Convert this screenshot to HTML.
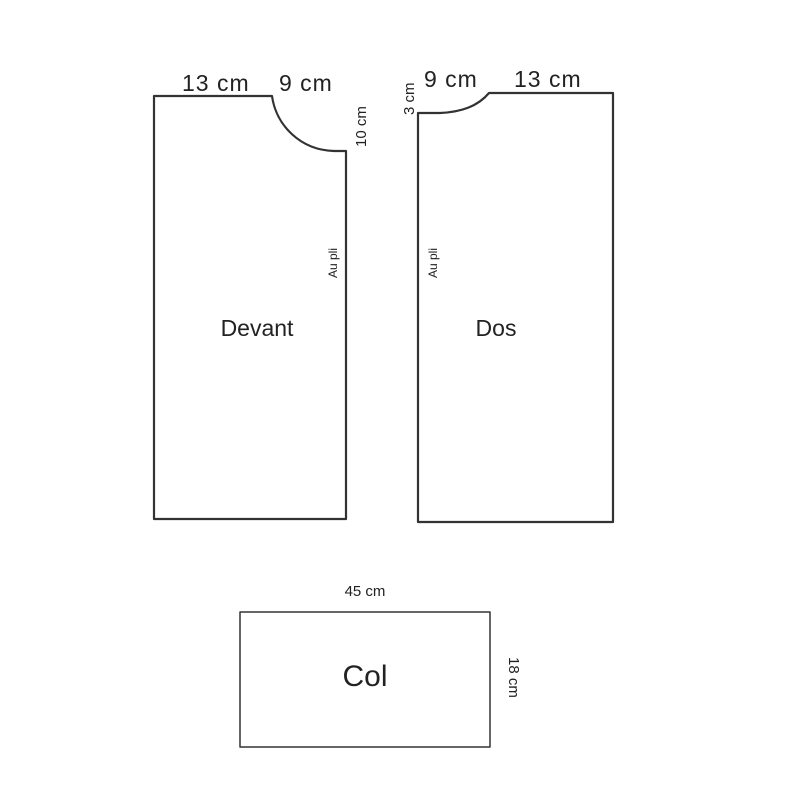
<!DOCTYPE html>
<html><head><style>body{margin:0;background:#fff}svg{display:block}</style></head><body>
<svg width="800" height="800" xmlns="http://www.w3.org/2000/svg" font-family="'Liberation Sans', 'DejaVu Sans', sans-serif" fill="#222">
<g fill="none" stroke="#333" stroke-width="2.2" stroke-linejoin="round">
<path d="M154 519 L154 96 L272 96 C276 125 300 150 334 151 L346 151 L346 519 Z"/>
<path d="M418 522 L418 113 L440 113 C462 112 478 106 489 93 L613 93 L613 522 Z"/>
<rect x="240" y="612" width="250" height="135" stroke-width="1.5"/>
</g>
<text x="182" y="91" font-size="23" letter-spacing="1">13 cm</text>
<text x="279" y="91" font-size="23" letter-spacing="1">9 cm</text>
<text x="424" y="87" font-size="23" letter-spacing="1">9 cm</text>
<text x="514" y="87" font-size="23" letter-spacing="1">13 cm</text>
<text transform="translate(366,147) rotate(-90)" font-size="15">10 cm</text>
<text transform="translate(414,115) rotate(-90)" font-size="15">3 cm</text>
<text transform="translate(337,278) rotate(-90)" font-size="12">Au pli</text>
<text transform="translate(437,278) rotate(-90)" font-size="12">Au pli</text>
<text x="257" y="336" font-size="23" text-anchor="middle">Devant</text>
<text x="496" y="336" font-size="23" text-anchor="middle">Dos</text>
<text x="365" y="596" font-size="15" text-anchor="middle">45 cm</text>
<text x="365" y="686" font-size="30" text-anchor="middle">Col</text>
<text transform="translate(509,657) rotate(90)" font-size="15">18 cm</text>
</svg>
</body></html>
